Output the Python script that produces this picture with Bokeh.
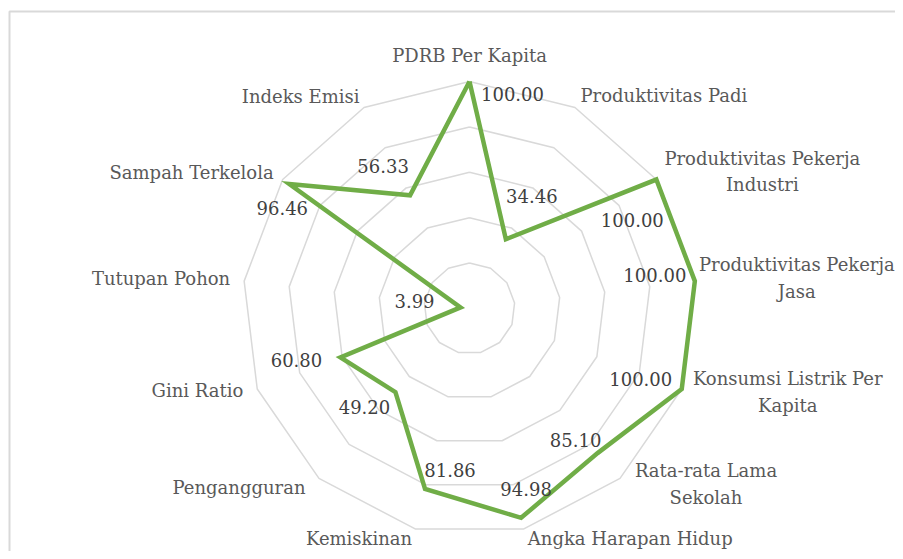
import numpy as np
from bokeh.plotting import figure
from bokeh.models import Range1d, ColumnDataSource
from bokeh.core.properties import value
from bokeh.embed import file_html
from bokeh.resources import INLINE

# ---- data ----
categories = [
    "PDRB Per Kapita",
    "Produktivitas Padi",
    "Produktivitas Pekerja\nIndustri",
    "Produktivitas Pekerja\nJasa",
    "Konsumsi Listrik Per\nKapita",
    "Rata-rata Lama\nSekolah",
    "Angka Harapan Hidup",
    "Kemiskinan",
    "Pengangguran",
    "Gini Ratio",
    "Tutupan Pohon",
    "Sampah Terkelola",
    "Indeks Emisi",
]
values = [100.00, 34.46, 100.00, 100.00, 100.00, 85.10, 94.98, 81.86, 49.20, 60.80, 3.99, 96.46, 56.33]
ring_levels = [20, 40, 60, 80, 100]
max_value = 100

# ---- layout (pixels) ----
W, H = 895, 551
cx, cy = 469, 308          # centre of radar in canvas pixels
scale = 2.27               # pixels per value unit
FONT = value("DejaVu Serif")

# value-label offsets from their point (screen px, +y down)
val_off = [(43, 12), (26, -43), (-24, 40), (-40, -6), (-41, -10), (-22, -13), (5, -29),
           (25, -19), (-31, 15), (-44, 3), (-46, -6), (-7, 24), (-27, -29)]
# category-label offsets from the outer vertex and alignment
cat_off = [(0, -26), (5.5, -12), (106, -8), (102, -3), (106, 3), (86, 6), (4, 10),
           (-3, 10), (-13.5, 9), (-14, 1.5), (-14, -2.6), (-9, -7), (-4.5, -11)]
cat_align = ["center", "left", "center", "center", "center", "center", "left",
             "right", "right", "right", "right", "right", "right"]

n = len(categories)
theta = np.arange(n) * 2 * np.pi / n   # clockwise from top

p = figure(width=W, height=H, output_backend="svg", toolbar_location=None,
           x_range=Range1d(-cx / scale, (W - cx) / scale),
           y_range=Range1d(-(H - cy) / scale, cy / scale),
           min_border=0, outline_line_color=None)
p.axis.visible = False
p.grid.visible = False
p.background_fill_color = "white"
p.border_fill_color = "white"

# chart border (left and top edges visible)
px = lambda X: (X - cx) / scale
py = lambda Y: (cy - Y) / scale
p.line([px(9), px(9), px(W + 5)], [py(H + 5), py(11), py(11)], line_color="#d9d9d9", line_width=2)

# grid rings
xs, ys = [], []
for lv in ring_levels:
    xx = list(lv * np.sin(theta)) + [lv * np.sin(theta[0])]
    yy = list(lv * np.cos(theta)) + [lv * np.cos(theta[0])]
    xs.append(xx)
    ys.append(yy)
p.multi_line(xs, ys, line_color="#d9d9d9", line_width=1.5)

# data line
v = np.array(values)
dx = v * np.sin(theta)
dy = v * np.cos(theta)
p.line(list(dx) + [dx[0]], list(dy) + [dy[0]], line_color="#70ad47", line_width=4.5,
       line_join="miter")

# value labels
lab_src = ColumnDataSource(dict(
    x=[dx[i] + val_off[i][0] / scale for i in range(n)],
    y=[dy[i] - val_off[i][1] / scale for i in range(n)],
    t=[f"{val:.2f}" for val in values],
))
p.text("x", "y", text="t", source=lab_src, text_font=FONT,
       text_font_size="18px", text_color="#404040", text_align="center",
       text_baseline="middle")

# category labels
ox = max_value * np.sin(theta)
oy = max_value * np.cos(theta)
cat_src = ColumnDataSource(dict(
    x=[ox[i] + cat_off[i][0] / scale for i in range(n)],
    y=[oy[i] - cat_off[i][1] / scale for i in range(n)],
    t=categories,
    a=cat_align,
))
p.text("x", "y", text="t", source=cat_src, text_font=FONT,
       text_font_size="18px", text_color="#595959", text_align="a",
       text_baseline="middle", text_line_height=1.28)

open("out.html", "w").write(file_html(p, INLINE))
